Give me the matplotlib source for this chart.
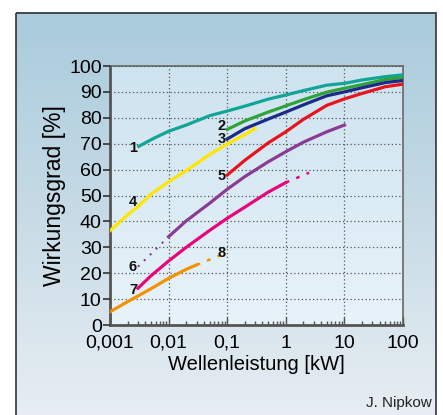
import numpy as np
import matplotlib
matplotlib.use("Agg")
import matplotlib.pyplot as plt
from matplotlib.colors import LinearSegmentedColormap
from matplotlib.patches import Rectangle

plt.rcParams['font.family'] = ['Liberation Sans', 'DejaVu Sans']

# curves: power [kW] and efficiency [%], solid parts (+ dotted extensions)
c1_x = [0.0031, 0.0055, 0.01, 0.02, 0.05, 0.1, 0.2, 0.5, 1, 2, 5, 10, 20, 50, 100]
c1_y = [69, 72.0, 74.8, 77.2, 80.8, 82.6, 84.5, 87.2, 88.8, 90.5, 92.6, 93.3, 94.6, 95.9, 96.6]
c2_x = [0.1, 0.2, 0.5, 1, 2, 5, 10, 20, 50, 100]
c2_y = [75.5, 78.8, 82.2, 84.6, 87.0, 89.9, 91.4, 92.8, 94.8, 95.6]
c3_x = [0.1, 0.2, 0.5, 1, 2, 5, 10, 20, 50, 100]
c3_y = [71.8, 75.8, 79.5, 82.2, 85.0, 88.5, 90.0, 91.6, 93.6, 94.4]
c4_x = [0.001, 0.002, 0.003, 0.005, 0.01, 0.02, 0.05, 0.1, 0.2, 0.3]
c4_y = [36.4, 42.5, 45.7, 50.5, 55.3, 59.6, 65.8, 69.9, 73.5, 75.9]
c5_x = [0.1, 0.2, 0.5, 1, 2, 5, 10, 20, 50, 100]
c5_y = [57.9, 63.6, 70.3, 74.6, 79.4, 84.8, 87.3, 89.4, 92.0, 93.0]
c6_x = [0.01, 0.02, 0.05, 0.1, 0.2, 0.5, 1, 2, 5, 10]
c6_y = [34.1, 40.2, 47.0, 52.4, 57.3, 63.0, 66.9, 70.6, 74.6, 77.2]
c6_dx = [0.003, 0.01]
c6_dy = [22.5, 34.1]
c7_x = [0.003, 0.005, 0.01, 0.02, 0.05, 0.1, 0.2, 0.5, 1]
c7_y = [14.2, 19.0, 24.7, 30.0, 36.5, 41.2, 45.5, 51.3, 55.0]
c7_dx = [1, 2.5]
c7_dy = [55.0, 58.8]
c8_x = [0.001, 0.002, 0.003, 0.005, 0.01, 0.02, 0.03]
c8_y = [5.1, 9.0, 11.2, 14.0, 18.0, 21.5, 23.2]
c8_dx = [0.03, 0.1]
c8_dy = [23.2, 28.0]

labels = ['1', '2', '3', '4', '5', '6', '7', '8']
label_x = [0.0025, 0.08, 0.08, 0.0025, 0.08, 0.0024, 0.0025, 0.08]
label_y = [68.5, 77.0, 71.8, 47.5, 57.5, 22.3, 13.7, 27.8]

xticks = [0.001, 0.01, 0.1, 1, 10, 100]
xticklabels = ['0,001', '0,01', '0,1', '1', '10', '100']
yticks = list(range(0, 101, 10))

fig = plt.figure(figsize=(4.43, 4.15), dpi=100)
fig.patch.set_facecolor('white')

# outer background with gradient
bg = fig.add_axes([0, 0, 1, 1], zorder=-10)
bg.set_xlim(0, 443)
bg.set_ylim(415, 0)
bg.axis('off')
cm_out = LinearSegmentedColormap.from_list('o', ['#a9cbdc', '#c7dbe6', '#e8eef3'])
grad = np.linspace(0, 1, 256).reshape(-1, 1)
bg.imshow(grad, cmap=cm_out, aspect='auto', extent=[16, 436, 420, 13])
bg.add_patch(Rectangle((16, 13), 420, 410, fill=False, ec='#333333', lw=1.2))
bg.text(432, 410, 'J. Nipkow', ha='right', va='bottom', fontsize=11, color='#222222')

ax = fig.add_axes([110 / 443, 1 - 325 / 415, 293 / 443, 259 / 415])
cm_in = LinearSegmentedColormap.from_list('i', ['#e8f3fa', '#cde3ef'])
ax.imshow(grad, cmap=cm_in, aspect='auto', extent=[0.001, 100, 100, 0], zorder=0)
ax.set_xscale('log')
ax.set_xlim(0.001, 100)
ax.set_ylim(0, 100)

lw = 2.3
ax.plot(c1_x, c1_y, color='#11a497', lw=lw, zorder=3)
ax.plot(c2_x, c2_y, color='#2fa33a', lw=lw, zorder=3)
ax.plot(c3_x, c3_y, color='#1c2a88', lw=lw, zorder=3)
ax.plot(c4_x, c4_y, color='#ffe600', lw=lw, zorder=3)
ax.plot(c5_x, c5_y, color='#e8141c', lw=lw, zorder=3)
ax.plot(c6_x, c6_y, color='#8c3b94', lw=lw, zorder=3)
ax.plot(c6_dx, c6_dy, color='#8c3b94', lw=1.5, ls=(0, (1, 3)), zorder=3)
ax.plot(c7_x, c7_y, color='#e5087c', lw=lw, zorder=3)
ax.plot(c7_dx, c7_dy, color='#e5087c', lw=1.8, ls=(0, (1.5, 3)), zorder=3)
ax.plot(c8_x, c8_y, color='#f39200', lw=lw, zorder=3)
ax.plot(c8_dx, c8_dy, color='#f39200', lw=1.8, ls=(0, (1.5, 3)), zorder=3)

for t, lx, ly in zip(labels, label_x, label_y):
    ax.text(lx, ly, t, ha='center', va='center', fontsize=10.5,
            fontweight='bold', color='#111111', zorder=4)

ax.set_xticks(xticks)
ax.set_xticklabels(xticklabels)
ax.set_yticks(yticks)
ax.grid(True, which='major', ls=(0, (1, 2)), color='#555555', lw=0.9, zorder=1)
ax.set_axisbelow(False)
ax.tick_params(axis='x', which='major', direction='in', length=6, width=1,
               color='#555555', labelsize=14, pad=7)
ax.tick_params(axis='x', which='minor', direction='in', length=3, width=1,
               color='#555555')
ax.tick_params(axis='y', direction='out', length=5, width=1.2,
               color='#333333', labelsize=14, pad=1)
for s in ['left', 'bottom']:
    ax.spines[s].set_color('#555555')
    ax.spines[s].set_linewidth(2)
for s in ['top', 'right']:
    ax.spines[s].set_color('#666666')
    ax.spines[s].set_linewidth(1.2)

ax.set_xlabel('Wellenleistung [kW]', fontsize=14.5, labelpad=2)
ax.set_ylabel('Wirkungsgrad [%]', fontsize=16.5, labelpad=2)

fig.savefig('out.png', dpi=100)
